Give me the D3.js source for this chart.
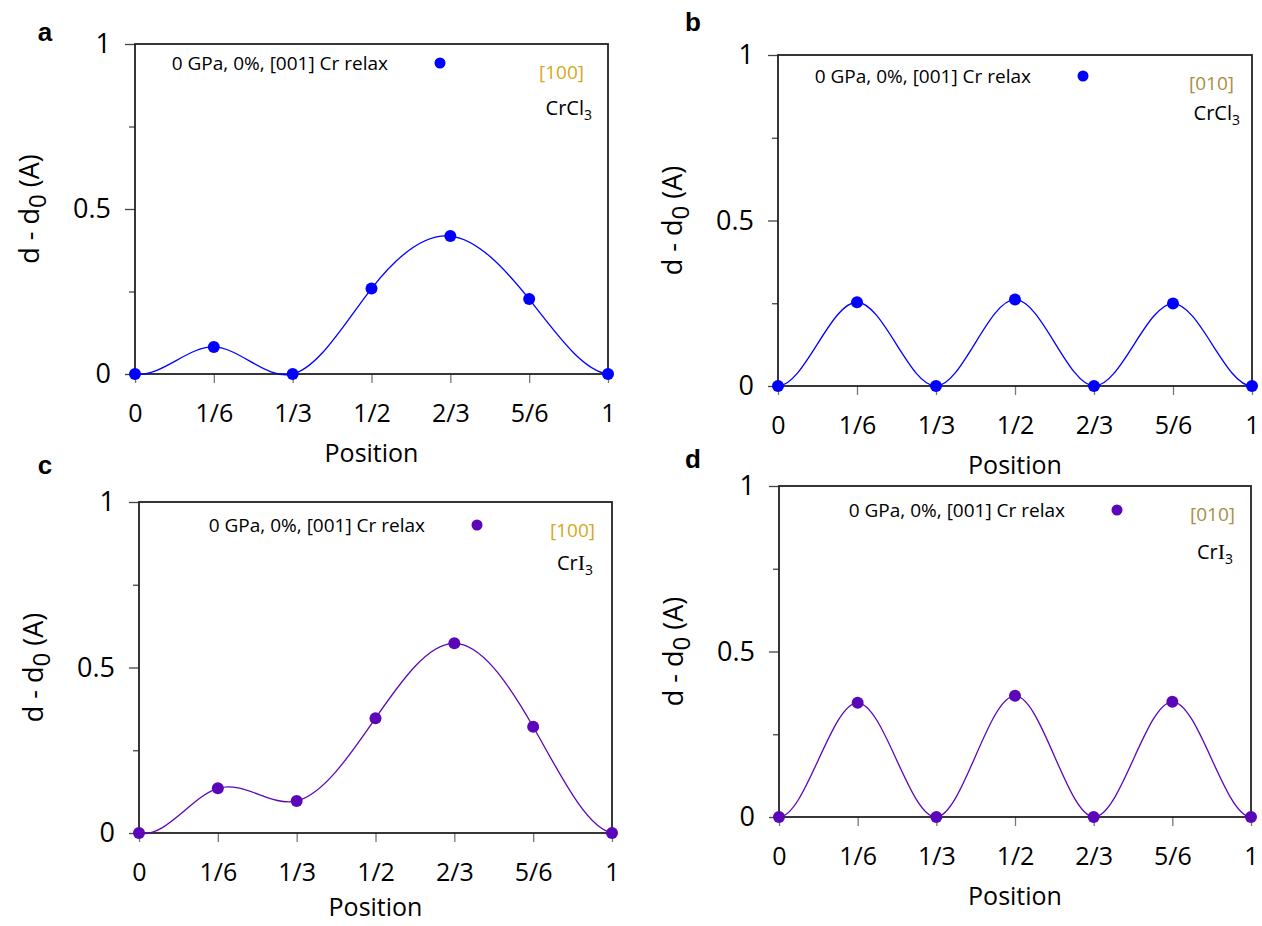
<!DOCTYPE html>
<html>
<head>
<meta charset="utf-8">
<script src="https://cdn.jsdelivr.net/npm/d3@7"></script>
<style>
  body { margin: 0; background: #fff; }
  svg { font-family: "Open Sans", sans-serif; }
</style>
</head>
<body>
<div id="chart"></div>
<script>
// data
var positions = [0, 1/6, 1/3, 1/2, 2/3, 5/6, 1];
var positionLabels = ["0", "1/6", "1/3", "1/2", "2/3", "5/6", "1"];
var yTicks = [0, 0.25, 0.5, 0.75, 1];
var crcl3_100 = [0, 0.082, 0, 0.259, 0.418, 0.227, 0];
var crcl3_010 = [0, 0.253, 0, 0.261, 0, 0.249, 0];
var cri3_100 = [0, 0.135, 0.097, 0.347, 0.573, 0.321, 0];
var cri3_010 = [0, 0.345, 0, 0.366, 0, 0.348, 0];
var legendText = "0 GPa, 0%, [001] Cr relax";

// periodic cubic spline as a d3 curve (ends share the same slope)
function curvePeriodicSpline(context) {
  return {
    areaStart: function() {},
    areaEnd: function() {},
    lineStart: function() { this._x = []; this._y = []; },
    point: function(x, y) { this._x.push(+x); this._y.push(+y); },
    lineEnd: function() {
      var xs = this._x, ys = this._y, n = xs.length - 1;
      if (n < 1) return;
      var h = (xs[n] - xs[0]) / n;
      var m = new Array(n).fill(0);
      var yy = function(i) { return ys[((i % n) + n) % n]; };
      for (var it = 0; it < 400; it++) {
        for (var i = 0; i < n; i++) {
          var rhs = 3 * (yy(i + 1) - yy(i - 1)) / h;
          m[i] = (rhs - m[(i - 1 + n) % n] - m[(i + 1) % n]) / 4;
        }
      }
      context.moveTo(xs[0], ys[0]);
      for (var k = 0; k < n; k++) {
        var dx = (xs[k + 1] - xs[k]) / 3;
        var m0 = m[k], m1 = m[(k + 1) % n];
        context.bezierCurveTo(xs[k] + dx, ys[k] + m0 * dx,
                              xs[k + 1] - dx, ys[k + 1] - m1 * dx,
                              xs[k + 1], ys[k + 1]);
      }
    }
  };
}

var svg = d3.select("#chart").append("svg")
  .attr("width", 1262)
  .attr("height", 926);

// one entry per panel; box = left, top, right, bottom
var panels = [
  { letter: "a", lx: 45, ly: 32, box: [135, 44, 608, 374], values: crcl3_100, color: "#0000ff",
    dir: "[100]", dirColor: "#d6a81c", base: "CrCl", serifI: false,
    leg: { mx: 440, my: 63, dirX: 584, dirY: 72, cX: 592, cY: 108 } },
  { letter: "b", lx: 693, ly: 22, box: [778, 55, 1252, 386], values: crcl3_010, color: "#0000ff",
    dir: "[010]", dirColor: "#a68f45", base: "CrCl", serifI: false,
    leg: { mx: 1083, my: 76, dirX: 1234, dirY: 83, cX: 1240, cY: 113 } },
  { letter: "c", lx: 45, ly: 465, box: [139, 502, 612, 833], values: cri3_100, color: "#5b06b8",
    dir: "[100]", dirColor: "#d6a81c", base: "Cr", serifI: true,
    leg: { mx: 477, my: 525, dirX: 595, dirY: 530, cX: 593, cY: 563 } },
  { letter: "d", lx: 693, ly: 459, box: [779, 486, 1251, 817], values: cri3_010, color: "#5b06b8",
    dir: "[010]", dirColor: "#a68f45", base: "Cr", serifI: true,
    leg: { mx: 1117, my: 510, dirX: 1235, dirY: 514, cX: 1233, cY: 552 } }
];

panels.forEach(function(p) {
  var left = p.box[0], top = p.box[1], right = p.box[2], bottom = p.box[3];
  var w = right - left, h = bottom - top;

  var x = d3.scaleLinear().domain([0, 1]).range([0, w]);
  var y = d3.scaleLinear().domain([0, 1]).range([h, 0]);

  var g = svg.append("g").attr("transform", "translate(" + left + "," + top + ")");

  // x axis
  var xAxis = g.append("g")
    .attr("transform", "translate(0," + h + ")")
    .call(d3.axisBottom(x).tickValues(positions)
      .tickFormat(function(d, i) { return positionLabels[i]; })
      .tickSize(9).tickPadding(21));
  xAxis.select(".domain").remove();
  xAxis.selectAll(".tick line").attr("stroke", "#777").attr("stroke-width", 1.3);
  xAxis.selectAll(".tick text").attr("font-size", 25).attr("font-family", "Open Sans").attr("fill", "#000");

  // y axis
  var yAxis = g.append("g")
    .call(d3.axisLeft(y).tickValues(yTicks)
      .tickFormat(function(d) { return (d === 0.25 || d === 0.75) ? "" : d3.format("")(d); })
      .tickSize(10).tickPadding(14));
  yAxis.select(".domain").remove();
  yAxis.selectAll(".tick line")
    .attr("stroke", "#444").attr("stroke-width", 1.3)
    .attr("x2", function(d) { return (d === 0.25 || d === 0.75) ? -6 : -10; });
  yAxis.selectAll(".tick text").attr("font-size", 27).attr("font-family", "Open Sans").attr("fill", "#000");

  // frame
  g.append("rect")
    .attr("width", w).attr("height", h)
    .attr("fill", "none").attr("stroke", "#222").attr("stroke-width", 1.8);

  // curve and points
  var pts = positions.map(function(px, i) { return [px, p.values[i]]; });
  var line = d3.line()
    .x(function(d) { return x(d[0]); })
    .y(function(d) { return y(d[1]); })
    .curve(curvePeriodicSpline);

  g.append("path")
    .datum(pts)
    .attr("d", line)
    .attr("fill", "none")
    .attr("stroke", p.color)
    .attr("stroke-width", 1.3);

  g.selectAll("circle.pt")
    .data(pts)
    .enter()
    .append("circle")
    .attr("class", "pt")
    .attr("cx", function(d) { return x(d[0]); })
    .attr("cy", function(d) { return y(d[1]); })
    .attr("r", 6)
    .attr("fill", p.color);

  // axis titles
  svg.append("text")
    .attr("x", left + w / 2)
    .attr("y", Math.min(bottom + 88, 916))
    .attr("text-anchor", "middle")
    .attr("font-size", 25)
    .text("Position");

  var yl = svg.append("text")
    .attr("transform", "translate(" + (left - 96) + "," + (top + h / 2) + ") rotate(-90)")
    .attr("text-anchor", "middle")
    .attr("font-size", 27);
  yl.append("tspan").text("d - d");
  yl.append("tspan").attr("font-size", 24).attr("dy", 7).text("0");
  yl.append("tspan").attr("dy", -7).text(" (A)");

  // legend
  svg.append("text")
    .attr("x", p.leg.mx - 52)
    .attr("y", p.leg.my + 7)
    .attr("text-anchor", "end")
    .attr("font-size", 19)
    .text(legendText);
  svg.append("circle")
    .attr("cx", p.leg.mx).attr("cy", p.leg.my)
    .attr("r", 5.5).attr("fill", p.color);

  svg.append("text")
    .attr("x", p.leg.dirX)
    .attr("y", p.leg.dirY + 7)
    .attr("text-anchor", "end")
    .attr("font-size", 19)
    .attr("fill", p.dirColor)
    .text(p.dir);

  var ct = svg.append("text")
    .attr("x", p.leg.cX)
    .attr("y", p.leg.cY + 7)
    .attr("text-anchor", "end")
    .attr("font-size", 20);
  ct.append("tspan").text(p.base);
  if (p.serifI) {
    ct.append("tspan").attr("font-family", "Liberation Serif").attr("font-size", 22).text("I");
  }
  ct.append("tspan").attr("font-size", 14).attr("dy", 5).text("3");

  // panel letter
  svg.append("text")
    .attr("x", p.lx).attr("y", p.ly + 9)
    .attr("text-anchor", "middle")
    .attr("font-family", "Liberation Sans, Arial, sans-serif")
    .attr("font-weight", "bold")
    .attr("font-size", 26)
    .text(p.letter);
});
</script>
</body>
</html>
